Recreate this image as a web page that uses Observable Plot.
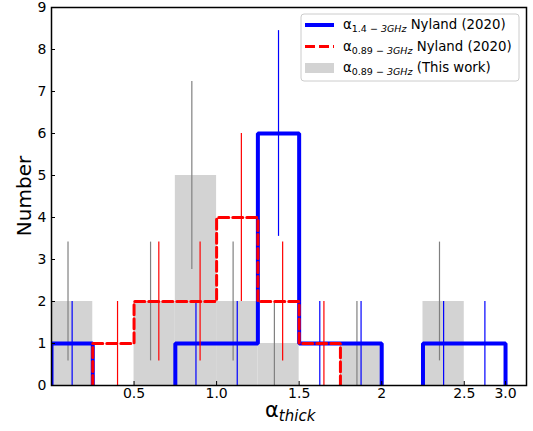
<!DOCTYPE html>
<html><head><meta charset="utf-8">
<script src="https://cdn.jsdelivr.net/npm/d3@7"></script>
<script src="https://cdn.jsdelivr.net/npm/@observablehq/plot@0.6"></script>
<style>body{margin:0;background:#fff} #chart svg{font-family:"DejaVu Sans",sans-serif;overflow:visible}</style>
</head><body><div id="chart"></div>
<script>
// Bin left edges (width 0.25); last bin drawn to 2.75 (labelled "3.0")
const binEdges = [0, 0.25, 0.5, 0.75, 1.0, 1.25, 1.5, 1.75, 2.0, 2.25, 2.5];
const binWidth = 0.25;
// Counts per bin
const thisWork089 = [2, 0, 2, 5, 2, 1, 0, 1, 0, 2, 0];   // grey bars
const nyland14    = [1, 0, 0, 1, 1, 6, 1, 1, 0, 1, 1];   // blue step
const nyland089   = [0, 1, 2, 2, 4, 2, 1, 0, 0, 0, 0];   // red dashed step
// Axis ticks
const xTickValues = [0.5, 1.0, 1.5, 2.0, 2.5, 2.75];
const xTickLabels = ["0.5", "1.0", "1.5", "2", "2.5", "3.0"];
const yTickValues = [0, 1, 2, 3, 4, 5, 6, 7, 8, 9];

const bars = binEdges.map((x, i) => ({x1: x, x2: x + binWidth, y: thisWork089[i]}));
// step outline split into runs of non-empty bins (no line along y = 0)
function stepPts(counts) {
  const pts = [];
  let run = -1, inRun = false;
  counts.forEach((c, i) => {
    if (c > 0) {
      if (!inRun) { run++; inRun = true; pts.push({x: binEdges[i], y: 0, z: run}); }
      pts.push({x: binEdges[i], y: c, z: run});
    } else if (inRun) {
      pts.push({x: binEdges[i], y: 0, z: run}); inRun = false;
    }
  });
  if (inRun) pts.push({x: binEdges[binEdges.length - 1] + binWidth, y: 0, z: run});
  return pts;
}
function errs(counts, off) {
  return counts.map((c, i) => ({x: binEdges[i] + binWidth / 2 + off, y1: Math.max(0, c - Math.sqrt(c)), y2: c + Math.sqrt(c), c}))
    .filter(d => d.c > 0);
}

const plot = Plot.plot({
  width: 533, height: 431,
  marginLeft: 51, marginRight: 7, marginTop: 7, marginBottom: 46,
  style: {fontSize: "14px", fontFamily: "DejaVu Sans", background: "white"},
  x: {domain: [0, 2.877]},
  y: {domain: [0, 9]},
  marks: [
    Plot.rectY(bars, {x1: "x1", x2: "x2", y: "y", fill: "#d3d3d3"}),
    Plot.ruleX(errs(thisWork089, -0.025), {x: "x", y1: "y1", y2: "y2", stroke: "#808080", strokeWidth: 1.2}),
    Plot.line(stepPts(nyland14), {x: "x", y: "y", z: "z", curve: "step-after", stroke: "blue", strokeWidth: 4, strokeLinejoin: "miter", clip: true}),
    Plot.ruleX(errs(nyland14, 0), {x: "x", y1: "y1", y2: "y2", stroke: "blue", strokeWidth: 1.2}),
    Plot.line(stepPts(nyland089), {x: "x", y: "y", z: "z", curve: "step-after", stroke: "red", strokeWidth: 3, strokeDasharray: "10,4", strokeLinejoin: "miter", clip: true}),
    Plot.ruleX(errs(nyland089, 0.025), {x: "x", y1: "y1", y2: "y2", stroke: "red", strokeWidth: 1.2}),
    Plot.axisX({ticks: xTickValues, tickFormat: (d, i) => xTickLabels[xTickValues.indexOf(d)], tickSize: -4, tickPadding: 7, label: null, fontSize: 14}),
    Plot.axisY({ticks: yTickValues, tickSize: -4, tickPadding: 9, label: null, fontSize: 14}),
    Plot.frame({stroke: "black", strokeWidth: 1.5})
  ]
});
document.getElementById("chart").appendChild(plot);

const svg = d3.select(plot);
// Axis labels
const xl = svg.append("text").attr("x", 265).attr("y", 417).attr("fill", "black").attr("text-anchor", "start");
xl.append("tspan").attr("font-size", 21).text("α");
xl.append("tspan").attr("font-size", 15).attr("font-style", "italic").attr("dy", 4).text("thick");
svg.append("text").attr("transform", "translate(31,196) rotate(-90)").attr("text-anchor", "middle")
  .attr("font-size", 20).attr("fill", "black").text("Number");

// Legend
const lg = svg.append("g").attr("text-anchor", "start");
lg.append("rect").attr("x", 301).attr("y", 14).attr("width", 218).attr("height", 67).attr("rx", 3)
  .attr("fill", "white").attr("fill-opacity", 0.85).attr("stroke", "#cccccc").attr("stroke-width", 1);
const entries = [
  {type: "line", color: "blue", dash: null, w: 4, sub1: "1.4 − ", sub2: "3GHz", rest: " Nyland (2020)"},
  {type: "line", color: "red", dash: "10,4", w: 3, sub1: "0.89 − ", sub2: "3GHz", rest: " Nyland (2020)"},
  {type: "patch", color: "#d3d3d3", sub1: "0.89 − ", sub2: "3GHz", rest: " (This work)"}
];
entries.forEach((e, i) => {
  const cy = 25 + i * 21.5;
  if (e.type === "line") {
    lg.append("line").attr("x1", 305).attr("x2", 334).attr("y1", cy).attr("y2", cy)
      .attr("stroke", e.color).attr("stroke-width", e.w).attr("stroke-dasharray", e.dash);
  } else {
    lg.append("rect").attr("x", 305).attr("y", cy - 5).attr("width", 29).attr("height", 10).attr("fill", e.color);
  }
  const t = lg.append("text").attr("x", 343).attr("y", cy + 4).attr("font-size", 13.3).attr("fill", "black").attr("text-anchor", "start");
  t.append("tspan").text("α");
  t.append("tspan").attr("font-size", 9.5).attr("dy", 3).text(e.sub1);
  t.append("tspan").attr("font-size", 9.5).attr("font-style", "italic").text(e.sub2);
  t.append("tspan").attr("dy", -3).text(e.rest);
});
</script></body></html>
